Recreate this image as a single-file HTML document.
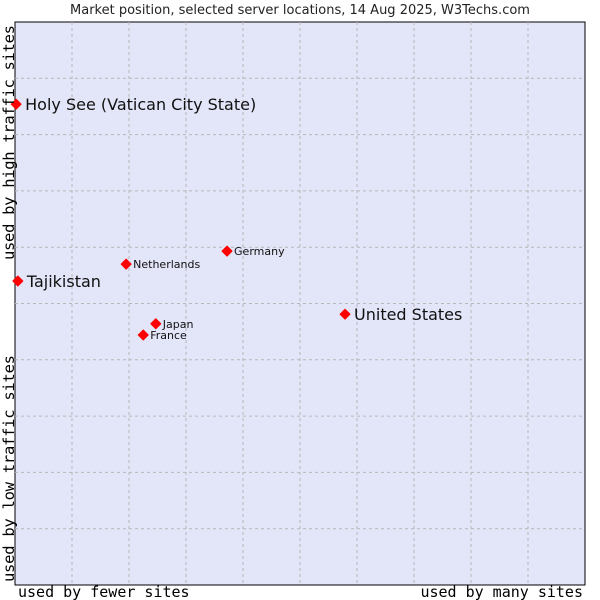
<!DOCTYPE html>
<html><head><meta charset="utf-8"><style>
body{margin:0;background:#fff;}
svg{display:block;font-family:"DejaVu Sans","Liberation Sans",sans-serif;}
</style></head><body>
<svg id="chart" width="600" height="600">
<text x="300" y="14" text-anchor="middle" font-size="13" fill="#222">Market position, selected server locations, 14 Aug 2025, W3Techs.com</text>
<rect x="15" y="22" width="570" height="563" fill="#e3e5f8" stroke="#000" stroke-width="1"/>
<g id="grid"></g>
<g id="points"></g>
<text x="18" y="597" font-family="DejaVu Sans Mono,Liberation Mono,monospace" font-size="15">used by fewer sites</text>
<text x="583" y="597" text-anchor="end" font-family="DejaVu Sans Mono,Liberation Mono,monospace" font-size="15">used by many sites</text>
<text transform="translate(14,260) rotate(-90)" font-family="DejaVu Sans Mono,Liberation Mono,monospace" font-size="15.5" textLength="235">used by high traffic sites</text>
<text transform="translate(14,582) rotate(-90)" font-family="DejaVu Sans Mono,Liberation Mono,monospace" font-size="15.5" textLength="227">used by low traffic sites</text>
</svg>
<script>
const names=["Holy See (Vatican City State)","Tajikistan","Netherlands","Germany","United States","Japan","France"];
const xVals=[0.2,0.5,19.5,37.2,57.9,24.7,22.5];
const yVals=[85.4,54.0,57.0,59.3,48.1,46.4,44.4];
const big=[true,true,false,false,true,false,false];
const L=15,T=22,W=570,H=563;
const sx=v=>L+v/100*W, sy=v=>T+H-v/100*H;
const NS="http://www.w3.org/2000/svg";
const grid=document.getElementById('grid');
for(let i=1;i<10;i++){
 const v=document.createElementNS(NS,'line');
 v.setAttribute('x1',sx(i*10));v.setAttribute('x2',sx(i*10));v.setAttribute('y1',T);v.setAttribute('y2',T+H);
 v.setAttribute('stroke','#b8b8b8');v.setAttribute('stroke-dasharray','3,3');
 
 
 grid.appendChild(v);
 const h=document.createElementNS(NS,'line');
 h.setAttribute('y1',sy(i*10));h.setAttribute('y2',sy(i*10));h.setAttribute('x1',L);h.setAttribute('x2',L+W);
 h.setAttribute('stroke','#b8b8b8');h.setAttribute('stroke-dasharray','3,3');
 
 
 grid.appendChild(h);
}
const pts=document.getElementById('points');
names.forEach((n,i)=>{
 const x=sx(xVals[i]),y=sy(yVals[i]);
 const d=document.createElementNS(NS,'path');
 d.setAttribute('d',`M${x-5},${y}L${x},${y-5}L${x+5},${y}L${x},${y+5}Z`);
 d.setAttribute('fill','#f00');
 d.setAttribute('stroke','#f00');
 d.setAttribute('stroke-width','1');
 d.setAttribute('stroke-linejoin','round');
 
 
 pts.appendChild(d);
 const t=document.createElementNS(NS,'text');
 t.setAttribute('x',x+(big[i]?9:7));t.setAttribute('y',y+(big[i]?6:4));
 t.setAttribute('font-size',big[i]?16:11);t.setAttribute('fill','#111');
 t.textContent=n;
 
 
 pts.appendChild(t);
});
</script>
</body></html>
